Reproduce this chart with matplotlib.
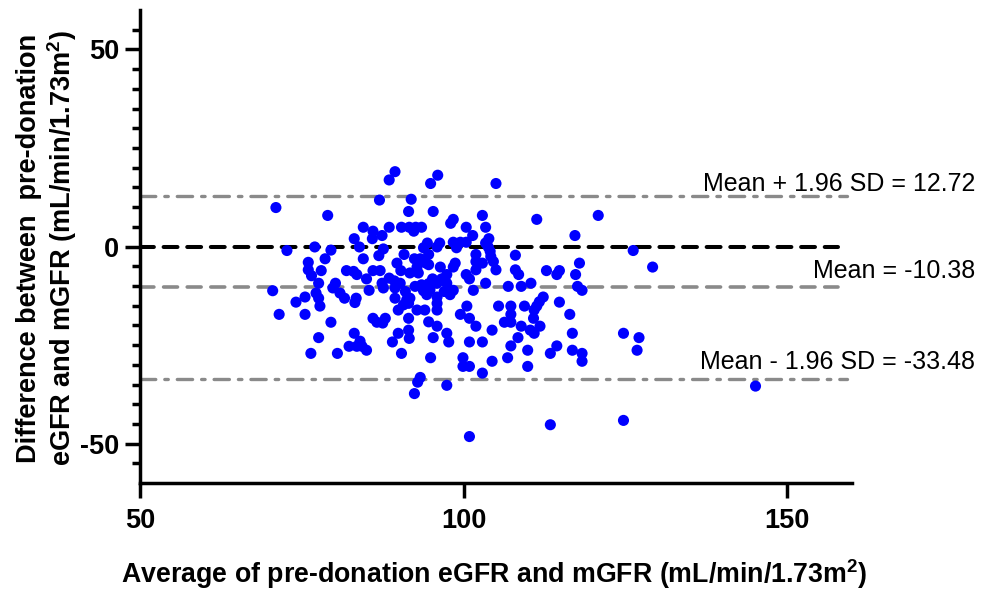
import matplotlib
matplotlib.use("Agg")
import matplotlib.pyplot as plt
import matplotlib.transforms as mtransforms
import numpy as np

plt.rcParams['font.family'] = ['Liberation Sans', 'DejaVu Sans']
plt.rcParams['mathtext.fontset'] = 'custom'
plt.rcParams['mathtext.rm'] = 'Liberation Sans'
plt.rcParams['mathtext.bf'] = 'Liberation Sans:bold'
plt.rcParams['lines.scale_dashes'] = False
plt.rcParams['axes.unicode_minus'] = False

# average of eGFR and mGFR, difference (eGFR - mGFR)
avg_gfr = [
    71.0, 79.0, 72.7, 77.0, 79.5, 78.6, 76.0, 78.0, 76.0, 81.9, 76.5, 77.6, 80.2, 79.8, 70.5,
    77.2, 77.6, 77.8, 75.5, 74.1, 71.5, 75.5, 80.9, 81.6, 79.5, 77.6, 76.4, 80.5, 82.3,
    89.4, 88.5, 96.0, 94.9, 87.0, 91.9, 91.5, 95.3, 84.5, 86.0, 85.9, 87.4, 88.5, 90.4,
    91.6, 92.6, 93.5, 92.3, 83.1, 83.9, 94.4, 96.3, 95.9, 93.8, 84.5, 86.9, 87.6, 90.8,
    94.6, 92.4, 93.3, 94.2, 89.7, 92.8, 96.4, 94.6,
    83.5, 85.0, 86.0, 87.1, 90.3, 88.5, 89.3, 95.2, 95.9, 87.4, 87.6, 85.4, 93.8, 94.8,
    97.0, 83.0, 91.7, 93.0, 90.2, 89.4, 92.5, 93.5, 94.6, 91.0, 89.4, 91.7, 95.9, 94.3, 97.4,
    83.4, 83.2, 89.9, 90.7, 91.2, 91.5, 92.8, 94.0, 95.9, 95.9, 94.6, 95.9, 89.9, 91.5,
    91.6, 89.0, 90.4, 95.3, 94.9, 86.0, 86.6, 87.9, 87.5, 83.1, 83.5, 84.3, 85.0, 84.0,
    91.5, 97.4, 97.7,
    93.3, 92.9, 92.4, 97.4,
    105.0, 111.3, 120.8, 117.2, 126.2, 98.4, 98.0, 100.4, 102.9, 103.4, 101.4, 103.9, 103.4,
    98.4, 99.5, 100.4, 98.9, 103.8, 104.1, 104.2, 104.6, 105.0, 101.9, 101.9, 101.9, 102.9,
    108.0, 98.7, 98.4, 96.6, 97.4, 100.4, 100.9, 108.0, 108.5, 112.8, 114.8, 114.4, 117.9,
    117.3, 103.4, 101.5, 98.4, 97.9, 106.9, 108.9, 110.4, 117.6, 118.3,
    100.5, 99.5, 100.9, 101.9, 105.4, 107.3, 107.3, 106.3, 107.3, 108.9, 109.4, 112.3, 111.7,
    111.3, 110.9, 110.8, 111.8, 110.3, 110.9, 114.8, 116.4, 116.8, 100.9, 102.9, 104.4, 108.4,
    107.3, 109.9, 106.8, 104.4, 109.9, 102.9, 99.9, 99.9, 100.9, 114.4, 113.4, 116.8, 118.3,
    118.3, 124.7, 127.1, 126.8, 113.4, 100.9, 124.7,
    129.2, 145.1,
]
diff_gfr = [
    9.9, 7.9, -1.0, -0.1, -0.9, -3.1, -4.0, -6.1, -5.9, -6.1, -7.4, -9.3, -9.3, -10.5, -11.2,
    -11.8, -13.1, -15.1, -12.8, -14.1, -17.2, -17.2, -11.8, -13.1, -19.2, -23.1, -27.1, -27.1, -25.3,
    19.0, 16.9, 18.1, 16.0, 11.8, 12.0, 8.9, 8.9, 4.9, 3.9, 2.0, 2.8, 4.9, 4.9,
    4.9, 4.9, 4.9, 3.9, 2.0, -0.1, 0.9, 0.9, -0.1, -0.3, -3.1, -2.3, -0.6, -2.0,
    -2.0, -3.1, -3.1, -4.2, -4.2, -5.2, -5.2, -4.6,
    -7.1, -8.2, -6.1, -6.1, -6.1, -8.0, -8.7, -8.2, -9.3, -9.3, -10.5, -11.1, -11.2, -11.0,
    -11.4, -6.3, -6.7, -6.7, -9.3, -10.5, -10.1, -9.7, -9.4, -11.4, -13.1, -13.1, -12.8, -12.2, -7.1,
    -13.1, -14.2, -16.1, -14.8, -13.5, -18.2, -16.1, -16.1, -14.4, -16.1, -19.1, -20.2, -22.0, -21.2,
    -23.3, -24.2, -27.1, -23.1, -28.2, -18.2, -19.2, -18.2, -19.4, -22.0, -25.3, -25.3, -26.3, -24.0,
    -14.4, -22.0, -24.2,
    -33.2, -34.4, -37.3, -35.2,
    16.0, 6.9, 7.9, 2.8, -1.0, 6.9, 5.9, 4.9, 7.9, 4.9, 2.8, 2.0, 0.9,
    1.1, 1.1, 1.1, -0.3, -0.1, -1.2, -2.5, -3.8, -5.9, -2.0, -3.8, -5.9, -4.2,
    -2.2, -4.2, -5.2, -8.2, -9.3, -7.1, -8.2, -5.9, -7.1, -6.1, -6.1, -7.1, -4.2,
    -7.1, -9.3, -11.1, -11.1, -12.2, -10.1, -10.1, -9.3, -10.1, -11.1,
    -15.1, -17.2, -18.2, -20.2, -15.1, -15.1, -17.2, -19.2, -19.2, -20.2, -15.1, -12.8, -14.0,
    -15.1, -16.1, -18.2, -20.2, -21.2, -22.0, -14.1, -17.2, -22.0, -24.2, -24.2, -21.2, -23.1,
    -25.2, -26.3, -28.2, -29.1, -30.4, -32.1, -28.2, -30.4, -30.4, -25.2, -27.1, -26.3, -27.1,
    -29.1, -22.0, -23.1, -26.3, -45.2, -48.2, -44.1,
    -5.2, -35.4,
]

mean_diff = -10.38
upper_loa = 12.72
lower_loa = -33.48
line_labels = ["Mean + 1.96 SD = 12.72", "Mean = -10.38", "Mean - 1.96 SD = -33.48"]

fig = plt.figure(figsize=(9.88, 5.92), dpi=100)
ax = fig.add_axes([0.1417, 0.184, 0.7206, 0.799])

grey = '#8a8a8a'
dashdot = (0, (11, 6.5, 2.5, 6.5))
ax.axhline(upper_loa, xmax=0.993, color=grey, lw=2.4, ls=dashdot, dash_capstyle='round', zorder=1)
ax.axhline(lower_loa, xmax=0.993, color=grey, lw=2.4, ls=dashdot, dash_capstyle='round', zorder=1)
ax.axhline(mean_diff, xmax=0.98, color=grey, lw=2.6, ls=(0, (10, 7)), dash_capstyle='round', zorder=1)
ax.axhline(0, xmax=0.98, color='black', lw=2.9, ls=(0, (10, 7)), dash_capstyle='round', zorder=1)

ax.scatter(avg_gfr, diff_gfr, s=64, color='#0000ff', edgecolors='none', zorder=3)

ax.set_xlim(50, 160)
ax.set_ylim(-60, 60)
ax.set_xticks([50, 100, 150])
ax.set_yticks([-50, 0, 50])
ax.set_yticks(np.arange(-55, 60, 5), minor=True)

for s in ['top', 'right']:
    ax.spines[s].set_visible(False)
for s in ['left', 'bottom']:
    ax.spines[s].set_linewidth(2.5)
ax.tick_params(axis='both', which='major', width=2.5, length=11, labelsize=19.5)
ax.tick_params(axis='y', which='major', pad=4)
ax.tick_params(axis='x', which='major', pad=7)
ax.tick_params(axis='y', which='minor', width=2.5, length=5.5)
for lab in ax.get_xticklabels() + ax.get_yticklabels():
    lab.set_fontweight('bold')

trans = mtransforms.blended_transform_factory(fig.transFigure, ax.transData)
for yv, txt in zip([16.0, -6.1, -29.3], line_labels):
    ax.text(0.987, yv, txt, transform=trans, ha='right', va='center',
            fontsize=18, clip_on=False)

fig.text(0.5, 0.03, r'Average of pre-donation eGFR and mGFR (mL/min/1.73m$^{\mathbf{2}}$)',
         ha='center', va='center', fontsize=19.3, fontweight='bold')
fig.text(0.048, 1 - 248 / 592, 'Difference between  pre-donation\n'
         r'eGFR and mGFR (mL/min/1.73m$^{\mathbf{2}}$)',
         ha='center', va='center', rotation=90, fontsize=19.5, fontweight='bold',
         multialignment='center', linespacing=1.15)

fig.savefig('out.png', dpi=100)
